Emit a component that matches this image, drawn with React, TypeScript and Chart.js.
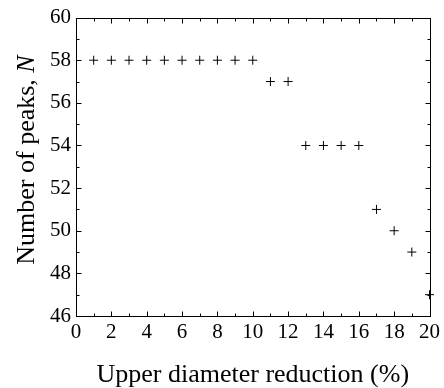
import React, { useEffect, useRef } from "react";
import { Chart, registerables } from "chart.js";

Chart.register(...registerables);

const reductions = [1, 2, 3, 4, 5, 6, 7, 8, 9, 10, 11, 12, 13, 14, 15, 16, 17, 18, 19, 20];
const peaks = [58, 58, 58, 58, 58, 58, 58, 58, 58, 58, 57, 57, 54, 54, 54, 54, 51, 50, 49, 47];
const xTitle = "Upper diameter reduction (%)";
const yTitleMain = "Number of peaks, ";
const yTitleItalic = "N";

const FONT = "'Liberation Serif', 'Times New Roman', serif";

const framePlugin = {
  id: "frame",
  afterDraw(chart: any) {
    const { ctx, chartArea: a, scales } = chart;
    const xs = scales.x;
    const ys = scales.y;
    ctx.save();
    ctx.strokeStyle = "#000";
    ctx.lineWidth = 1;
    const L = Math.round(a.left) + 0.5;
    const R = Math.round(a.right) + 0.5;
    const T = Math.round(a.top) + 0.5;
    const B = Math.round(a.bottom) + 0.5;
    ctx.strokeRect(L, T, R - L, B - T);
    ctx.beginPath();
    for (let v = xs.min; v <= xs.max; v += 1) {
      const px = Math.round(xs.getPixelForValue(v)) + 0.5;
      const len = v % 2 === 0 ? 5 : 3;
      ctx.moveTo(px, B);
      ctx.lineTo(px, B - len);
      ctx.moveTo(px, T);
      ctx.lineTo(px, T + len);
    }
    for (let v = ys.min; v <= ys.max; v += 1) {
      const py = Math.round(ys.getPixelForValue(v)) + 0.5;
      const len = v % 2 === 0 ? 5 : 3;
      ctx.moveTo(L, py);
      ctx.lineTo(L + len, py);
      ctx.moveTo(R, py);
      ctx.lineTo(R - len, py);
    }
    ctx.stroke();

    ctx.fillStyle = "#000";
    // x title
    ctx.font = `26px ${FONT}`;
    ctx.textAlign = "center";
    ctx.textBaseline = "alphabetic";
    ctx.fillText(xTitle, (a.left + a.right) / 2, 382);

    // y title
    ctx.translate(34, 160);
    ctx.rotate(-Math.PI / 2);
    ctx.font = `26px ${FONT}`;
    const w1 = ctx.measureText(yTitleMain).width;
    ctx.font = `italic 26px ${FONT}`;
    const w2 = ctx.measureText(yTitleItalic).width;
    const start = -(w1 + w2) / 2;
    ctx.textAlign = "left";
    ctx.font = `26px ${FONT}`;
    ctx.fillText(yTitleMain, start, 0);
    ctx.font = `italic 26px ${FONT}`;
    ctx.fillText(yTitleItalic, start + w1, 0);
    ctx.restore();
  },
};

export default function App() {
  const ref = useRef<HTMLCanvasElement>(null);
  useEffect(() => {
    if (!ref.current) return;
    const chart = new Chart(ref.current, {
      type: "scatter",
      data: {
        datasets: [
          {
            data: reductions.map((x, i) => ({ x, y: peaks[i] })),
            pointStyle: "cross",
            pointRadius: 4.5,
            pointBorderWidth: 1,
            borderColor: "#000",
            backgroundColor: "#000",
            clip: false as any,
          },
        ],
      },
      options: {
        animation: false,
        responsive: false,
        events: [],
        layout: { padding: { left: 0, top: 16, right: 12, bottom: 0 } },
        plugins: { legend: { display: false }, tooltip: { enabled: false } },
        scales: {
          x: {
            type: "linear",
            min: 0,
            max: 20,
            ticks: { stepSize: 2, color: "#000", font: { family: FONT, size: 21 }, padding: 4, maxRotation: 0 },
            grid: { display: false, drawTicks: false },
            border: { display: false },
            afterFit: (s: any) => { s.height = 72; },
          },
          y: {
            type: "linear",
            min: 46,
            max: 60,
            ticks: { stepSize: 2, color: "#000", font: { family: FONT, size: 21 }, padding: 5 },
            grid: { display: false, drawTicks: false },
            border: { display: false },
            afterFit: (s: any) => { s.width = 76; },
          },
        },
      },
      plugins: [framePlugin],
    });
    return () => chart.destroy();
  }, []);
  return (
    <div style={{ position: "absolute", left: 0, top: 0, width: 444, height: 388, background: "#fff" }}>
      <canvas ref={ref} width={444} height={388} style={{ width: 444, height: 388 }} />
    </div>
  );
}
